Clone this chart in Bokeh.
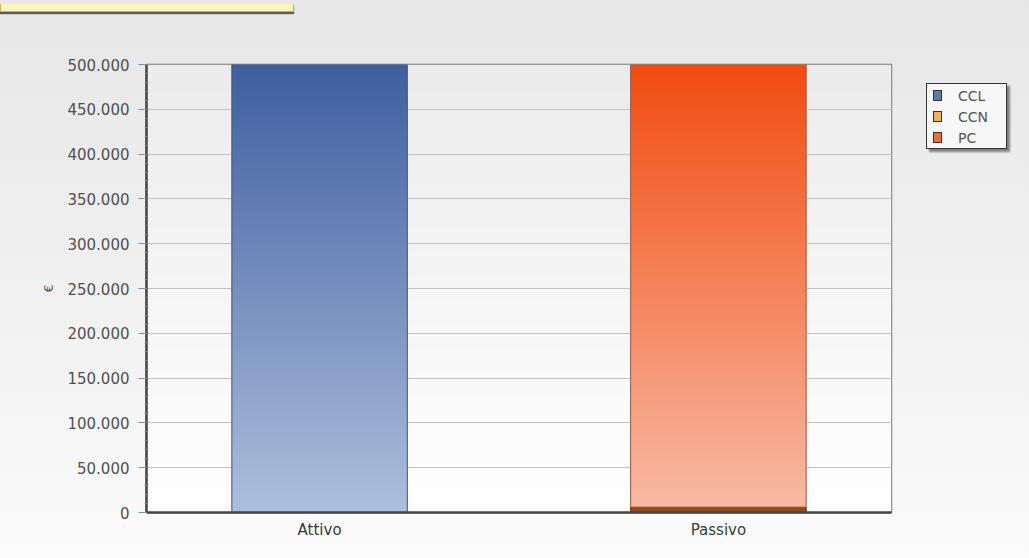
import numpy as np
from bokeh.plotting import figure
from bokeh.layouts import column, row
from bokeh.models import (Range1d, FixedTicker, SingleIntervalTicker, ColumnDataSource, Div)
from bokeh.embed import file_html
from bokeh.resources import INLINE

# --- data -------------------------------------------------------------
categories = ["Attivo", "Passivo"]
series = ["CCL", "CCN", "PC"]
ccl = [500000, 0]
ccn = [0, 6000]
pc = [0, 494000]
y_ticks = [0, 50000, 100000, 150000, 200000, 250000, 300000, 350000, 400000, 450000, 500000]
y_tick_labels = ["0", "50.000", "100.000", "150.000", "200.000", "250.000",
                 "300.000", "350.000", "400.000", "450.000", "500.000"]

# --- styling ----------------------------------------------------------
FONT = "DejaVu Sans"
legend_colors = {"CCL": "#5a78b4", "CCN": "#f2b25c", "PC": "#f06a3a"}
# gradient (top, bottom) per series
grad = {"CCL": ("#3f5fa0", "#adbfdd"),
        "CCN": ("#8e4418", "#9c4e22"),
        "PC": ("#f24c10", "#f8baa4")}
outline = {"CCL": "#44567e", "CCN": "#6e3614", "PC": "#9a5a40"}

x_pos = list(range(len(categories)))
bar_w = 0.44
pad = 0.434
y_max = y_ticks[-1]


def hex_rgb(h):
    h = h.lstrip("#")
    return [int(h[i:i + 2], 16) for i in (0, 2, 4)]


def gradient(top, bottom, n=256, cols=1):
    t = np.linspace(0.0, 1.0, n)[:, None]
    b = np.array(hex_rgb(bottom), dtype=float)
    a = np.array(hex_rgb(top), dtype=float)
    rgb = (b + (a - b) * t).astype(np.uint32)
    img = np.empty((n, cols), dtype=np.uint32)
    img[:, :] = (255 << 24) | (rgb[:, 2:3] << 16) | (rgb[:, 1:2] << 8) | rgb[:, 0:1]
    return img


TOP_STRIP = 12
LEGEND_W = 103

p = figure(width=1029 - LEGEND_W, height=558 - TOP_STRIP, output_backend="svg",
           toolbar_location=None,
           x_range=Range1d(-pad, len(categories) - 1 + pad),
           y_range=Range1d(0, y_max),
           min_border_left=146, min_border_right=35,
           min_border_top=64 - TOP_STRIP, min_border_bottom=46)

p.border_fill_alpha = 0
p.background_fill_alpha = 0
p.outline_line_color = "#7a7a7a"
p.outline_line_width = 1.5

# plot-area background: light grey at the top fading to white
p.image_rgba(image=[gradient("#ececec", "#ffffff")], x=-pad, y=0,
             dw=len(categories) - 1 + 2 * pad, dh=y_max, level="image")

# grid
p.xgrid.grid_line_color = None
p.ygrid.grid_line_color = "#c2c2c2"
p.ygrid.grid_line_width = 1

# stacked bars: solid base, vertical gradient, then outline
stack = {"CCL": ccl, "CCN": ccn, "PC": pc}
base = [0.0] * len(categories)
for s in series:
    vals = stack[s]
    src = ColumnDataSource(dict(
        x=[x for x, v in zip(x_pos, vals) if v > 0],
        bottom=[b for b, v in zip(base, vals) if v > 0],
        top=[b + v for b, v in zip(base, vals) if v > 0]))
    p.vbar(x="x", bottom="bottom", top="top", width=bar_w, source=src,
           fill_color=grad[s][1], line_color=None)
    for i, v in enumerate(vals):
        if v > 0:
            p.image_rgba(image=[gradient(*grad[s])], x=x_pos[i] - bar_w / 2, y=base[i],
                         dw=bar_w, dh=v)
    p.vbar(x="x", bottom="bottom", top="top", width=bar_w, source=src,
           fill_color=None, line_color=outline[s], line_width=1)
    base = [b + v for b, v in zip(base, vals)]

# axes
p.xaxis.ticker = FixedTicker(ticks=x_pos)
p.xaxis.major_label_overrides = {x: c for x, c in zip(x_pos, categories)}
p.xaxis.major_tick_out = 0
p.xaxis.major_tick_in = 0
p.xaxis.minor_tick_out = 0
p.xaxis.axis_line_color = "#444444"
p.xaxis.axis_line_width = 2.5
p.xaxis.major_label_text_font = FONT
p.xaxis.major_label_text_font_size = "15px"
p.xaxis.major_label_text_color = "#3a3a3a"
p.xaxis.major_label_standoff = 8

p.yaxis.ticker = SingleIntervalTicker(interval=50000, num_minor_ticks=5)
p.yaxis.major_label_overrides = {t: l for t, l in zip(y_ticks, y_tick_labels)}
p.yaxis.axis_line_color = "#444444"
p.yaxis.axis_line_width = 2.5
p.yaxis.major_tick_out = 8
p.yaxis.major_tick_in = 0
p.yaxis.minor_tick_out = 2
p.yaxis.minor_tick_in = 0
p.yaxis.major_tick_line_color = "#8a8a8a"
p.yaxis.minor_tick_line_color = "#9a9a9a"
p.yaxis.major_label_text_font = FONT
p.yaxis.major_label_text_font_size = "15px"
p.yaxis.major_label_text_color = "#505050"
p.yaxis.major_label_standoff = 9
p.yaxis.axis_label = "€"
p.yaxis.axis_label_text_font = FONT
p.yaxis.axis_label_text_font_size = "12px"
p.yaxis.axis_label_text_font_style = "normal"
p.yaxis.axis_label_text_color = "#505050"
p.yaxis.axis_label_standoff = 8

# legend box to the right of the plot
rows_html = "".join(
    f'<div style="display:flex;align-items:center;height:21px;">'
    f'<span style="display:inline-block;width:7px;height:9px;background:{legend_colors[s]};'
    f'border:1px solid #333;margin-left:6px;margin-right:16px;"></span>'
    f'<span>{s}</span></div>'
    for s in series)
legend_div = Div(
    text=(f'<div style="margin-top:{83 - TOP_STRIP}px;width:79px;height:63px;'
          f'border:1px solid #333;background:#f7f7f7;box-shadow:3px 3px 2px rgba(0,0,0,0.45);'
          f'font-family:\'{FONT}\';font-size:14px;color:#555;box-sizing:content-box;'
          f'padding-top:1px;">{rows_html}</div>'),
    width=LEGEND_W, height=558 - TOP_STRIP, margin=0)

# yellow caption strip at the top-left corner
caption = Div(text='<div style="width:294px;height:8px;background:#fdf6b8;'
                   'border:1px solid #c9b45a;border-top:none;'
                   'box-shadow:0 2px 1px #5a5a5a;"></div>',
              width=1029, height=TOP_STRIP, margin=0)

page = column(caption, row(p, legend_div, spacing=0, margin=0), spacing=0, margin=0,
              styles={"background": "linear-gradient(180deg, #e7e7e7 0%, #f1f1f1 55%, #fbfbfb 100%)"})

open("out.html", "w").write(file_html(page, INLINE))
